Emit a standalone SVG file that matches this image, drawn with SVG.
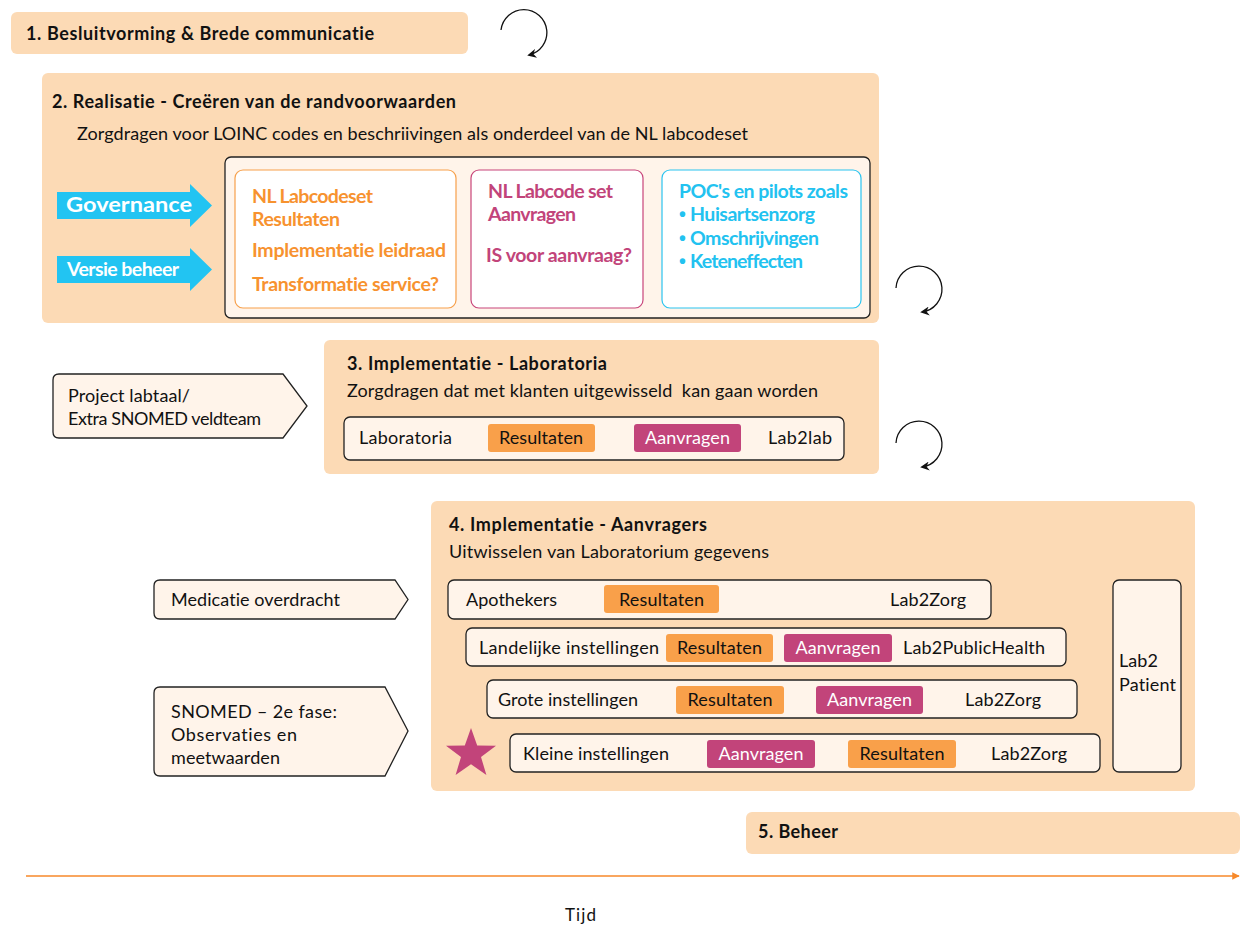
<svg xmlns="http://www.w3.org/2000/svg" width="1243" height="927" viewBox="0 0 1243 927">
  <style>
    text { font-family: Lato, "Liberation Sans", sans-serif; font-size: 18px; fill: #111; font-variant-ligatures: none; white-space: pre; }
    .b { font-weight: bold; }
    .big { font-size: 19.5px; }
    .phase { fill: #FCDAB5; }
    .cream { fill: #FFF4EA; stroke: #222; stroke-width: 1.3; }
    .res { fill: #F9A04A; }
    .aan { fill: #C2447A; }
    .wt { fill: #fff; }
    .og { fill: #F7922F; font-weight: bold; font-size: 19.5px; }
    .pk { fill: #C2447A; font-weight: bold; font-size: 19.5px; }
    .bl { fill: #22C2F0; font-weight: bold; font-size: 19.5px; }
    .dot { font-family: "Liberation Sans", sans-serif; }
    .cyc { fill: none; stroke: #111; stroke-width: 1.3; }
  </style>
  <defs>
    <marker id="headBlack" viewBox="0 0 10 10" refX="8" refY="5" markerWidth="7" markerHeight="7" orient="auto">
      <path d="M0,0 L10,5 L0,10 L3,5 z" fill="#111"/>
    </marker>
    <marker id="headOrange" viewBox="0 0 10 10" refX="9" refY="5" markerWidth="5" markerHeight="5" orient="auto">
      <path d="M0,0 L10,5 L0,10 z" fill="#F7892A"/>
    </marker>
  </defs>

  <!-- Phase 1 -->
  <g id="phase1">
    <rect class="phase" x="11" y="12" width="457" height="42" rx="6"/>
    <text class="b" x="26" y="40" textLength="348">1. Besluitvorming &amp; Brede communicatie</text>
  </g>

  <!-- Phase 2 -->
  <g id="phase2">
    <rect class="phase" x="42" y="73" width="837" height="250" rx="6"/>
    <text class="b" x="52" y="108" textLength="404">2. Realisatie - Creëren van de randvoorwaarden</text>
    <text x="77" y="140" textLength="671">Zorgdragen voor LOINC codes en beschriivingen als onderdeel van de NL labcodeset</text>
    <rect class="cream" x="225" y="157" width="645" height="161" rx="6"/>
    <g id="governance">
      <polygon points="57,192 190,192 190,184 212,205.5 190,227 190,219 57,219" fill="#22C4F2"/>
      <text class="b wt" x="66" y="212" textLength="126" lengthAdjust="spacingAndGlyphs" style="font-size:20px">Governance</text>
    </g>
    <g id="versiebeheer">
      <polygon points="57,256 190,256 190,248 212,269.5 190,291 190,283 57,283" fill="#22C4F2"/>
      <text class="b big wt" x="67" y="276" textLength="112">Versie beheer</text>
    </g>
    <g id="labcodeset-resultaten">
      <rect x="235" y="170" width="221" height="138" rx="8" fill="#fff" stroke="#F7A04B" stroke-width="1.2"/>
      <text class="og" x="252" y="203" textLength="121">NL Labcodeset</text>
      <text class="og" x="252" y="226" textLength="88">Resultaten</text>
      <text class="og" x="252" y="257" textLength="194">Implementatie leidraad</text>
      <text class="og" x="252" y="291" textLength="187">Transformatie service?</text>
    </g>
    <g id="labcodeset-aanvragen">
      <rect x="471" y="170" width="172" height="138" rx="8" fill="#fff" stroke="#C8457A" stroke-width="1.2"/>
      <text class="pk" x="488" y="198" textLength="125">NL Labcode set</text>
      <text class="pk" x="488" y="221" textLength="88">Aanvragen</text>
      <text class="pk" x="486" y="262" textLength="146">IS voor aanvraag?</text>
    </g>
    <g id="pilots">
      <rect x="662" y="170" width="199" height="138" rx="8" fill="#fff" stroke="#2BC4F0" stroke-width="1.2"/>
      <text class="bl" x="679" y="198" textLength="169">POC's en pilots zoals</text>
      <text class="bl" x="679" y="221"><tspan class="dot">•</tspan></text>
      <text class="bl" x="690" y="221" textLength="125">Huisartsenzorg</text>
      <text class="bl" x="679" y="245"><tspan class="dot">•</tspan></text>
      <text class="bl" x="690" y="245" textLength="129">Omschrijvingen</text>
      <text class="bl" x="679" y="268"><tspan class="dot">•</tspan></text>
      <text class="bl" x="690" y="268" textLength="113">Keteneffecten</text>
    </g>
  </g>

  <!-- Phase 3 -->
  <g id="phase3">
    <rect class="phase" x="324" y="340" width="555" height="134" rx="6"/>
    <text class="b" x="347" y="370" textLength="260">3. Implementatie - Laboratoria</text>
    <text x="347" y="397" textLength="471">Zorgdragen dat met klanten uitgewisseld  kan gaan worden</text>
    <rect class="cream" x="344" y="417" width="500" height="43" rx="6"/>
    <text x="359" y="444" textLength="93">Laboratoria</text>
    <rect class="res" x="488" y="424" width="107" height="28" rx="3"/>
    <text x="499" y="444" textLength="84">Resultaten</text>
    <rect class="aan" x="634" y="424" width="107" height="28" rx="3"/>
    <text class="wt" x="645" y="444" textLength="85">Aanvragen</text>
    <text x="768" y="444" textLength="64">Lab2lab</text>
  </g>

  <!-- Phase 4 -->
  <g id="phase4">
    <rect class="phase" x="431" y="501" width="764" height="290" rx="6"/>
    <text class="b" x="449" y="531" textLength="258">4. Implementatie - Aanvragers</text>
    <text x="449" y="558" textLength="320">Uitwisselen van Laboratorium gegevens</text>

    <g id="apothekers">
      <rect class="cream" x="448" y="580" width="543" height="39" rx="6"/>
      <text x="466" y="606" textLength="91">Apothekers</text>
      <rect class="res" x="604" y="585" width="115" height="28" rx="3"/>
      <text x="619" y="606" textLength="85">Resultaten</text>
      <text x="890" y="606" textLength="76">Lab2Zorg</text>
    </g>
    <g id="landelijk">
      <rect class="cream" x="466" y="628" width="600" height="38" rx="6"/>
      <text x="479" y="654" textLength="180">Landelijke instellingen</text>
      <rect class="res" x="666" y="634" width="107" height="28" rx="3"/>
      <text x="677" y="654" textLength="85">Resultaten</text>
      <rect class="aan" x="784" y="634" width="108" height="28" rx="3"/>
      <text class="wt" x="795.5" y="654" textLength="85">Aanvragen</text>
      <text x="903" y="654" textLength="142">Lab2PublicHealth</text>
    </g>
    <g id="groot">
      <rect class="cream" x="487" y="680" width="590" height="38" rx="6"/>
      <text x="498" y="706" textLength="140">Grote instellingen</text>
      <rect class="res" x="676" y="686" width="108" height="28" rx="3"/>
      <text x="687.5" y="706" textLength="85">Resultaten</text>
      <rect class="aan" x="816" y="686" width="107" height="28" rx="3"/>
      <text class="wt" x="827" y="706" textLength="85">Aanvragen</text>
      <text x="965" y="706" textLength="76">Lab2Zorg</text>
    </g>
    <g id="klein">
      <rect class="cream" x="510" y="734" width="590" height="38" rx="6"/>
      <text x="523" y="760" textLength="146">Kleine instellingen</text>
      <rect class="aan" x="707" y="740" width="108" height="28" rx="3"/>
      <text class="wt" x="718.5" y="760" textLength="85">Aanvragen</text>
      <rect class="res" x="848" y="740" width="108" height="28" rx="3"/>
      <text x="859.5" y="760" textLength="85">Resultaten</text>
      <text x="991" y="760" textLength="76">Lab2Zorg</text>
    </g>
    <g id="lab2patient">
      <rect class="cream" x="1113" y="580" width="68" height="192" rx="6"/>
      <text x="1119" y="667" textLength="39">Lab2</text>
      <text x="1119" y="691" textLength="57">Patient</text>
    </g>
    <polygon id="star" fill="#C2447A" points="471,728 477.2,745.4 496,745.8 481,757 486.4,775 471,764.3 455.6,775 461,757 446,745.8 464.8,745.4"/>
  </g>

  <!-- Phase 5 -->
  <g id="phase5">
    <rect class="phase" x="746" y="812" width="494" height="42" rx="6"/>
    <text class="b" x="758" y="838" textLength="80">5. Beheer</text>
  </g>

  <!-- Side inputs -->
  <g id="labtaal">
    <path class="cream" d="M59,374 H283 L307,406 L283,438 H59 Q53,438 53,432 V380 Q53,374 59,374 Z"/>
    <text x="68" y="402" textLength="122">Project labtaal/</text>
    <text x="68" y="425" textLength="193">Extra SNOMED veldteam</text>
  </g>
  <g id="medicatie">
    <path class="cream" d="M160,580 H395 L408,599.5 L395,619 H160 Q154,619 154,613 V586 Q154,580 160,580 Z"/>
    <text x="171" y="606" textLength="169">Medicatie overdracht</text>
  </g>
  <g id="snomed">
    <path class="cream" d="M160,687 H385 L408,731 L385,776 H160 Q154,776 154,770 V693 Q154,687 160,687 Z"/>
    <text x="171" y="718" textLength="166">SNOMED – 2e fase:</text>
    <text x="171" y="741" textLength="126">Observaties en</text>
    <text x="171" y="764" textLength="109">meetwaarden</text>
  </g>

  <!-- Connectors: iteration loops and time axis -->
  <g id="connectors">
    <path class="cyc" d="M501,30 A23,23 0 1 1 529,55" marker-end="url(#headBlack)"/>
    <path class="cyc" d="M896,288 A23,23 0 1 1 922,312" marker-end="url(#headBlack)"/>
    <path class="cyc" d="M896,443 A23,23 0 1 1 922,467" marker-end="url(#headBlack)"/>
    <line x1="26" y1="876" x2="1239" y2="876" stroke="#F7892A" stroke-width="1.5" marker-end="url(#headOrange)"/>
    <text x="565" y="921" textLength="31" style="font-size:17px">Tijd</text>
  </g>
</svg>
